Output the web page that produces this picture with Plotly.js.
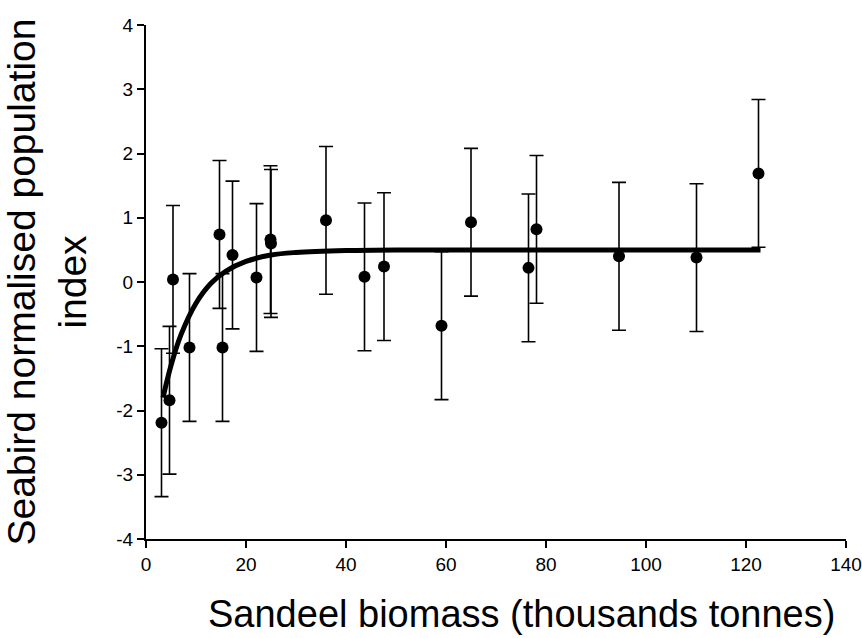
<!DOCTYPE html>
<html>
<head>
<meta charset="utf-8">
<script src="https://cdn.plot.ly/plotly-3.0.1.min.js"></script>
<style>html,body{margin:0;padding:0;background:#fff;}#chart{width:862px;height:638px;}</style>
</head>
<body>
<div id="chart"></div>
<script>
// Observed points: sandeel biomass (thousand tonnes) vs seabird index
const biomass = [3.1, 4.7, 5.4, 8.7, 14.7, 15.3, 17.3, 22.1, 24.9, 25.0, 36.0, 43.7, 47.6, 59.1, 65.0, 76.5, 78.1, 94.6, 110.1, 122.5];
const seabirdIndex = [-2.19, -1.84, 0.04, -1.02, 0.74, -1.02, 0.42, 0.07, 0.66, 0.60, 0.96, 0.08, 0.24, -0.68, 0.93, 0.22, 0.82, 0.40, 0.38, 1.69];
const errorSize = [1.15, 1.15, 1.15, 1.15, 1.15, 1.15, 1.15, 1.15, 1.15, 1.15, 1.15, 1.15, 1.15, 1.15, 1.15, 1.15, 1.15, 1.15, 1.15, 1.15];
// Fitted curve
const fitX = [3.4, 5, 7, 10, 13, 16, 20, 25, 30, 40, 50, 70, 100, 122.9];
const fitY = [-1.80, -1.30, -0.82, -0.33, -0.02, 0.17, 0.32, 0.42, 0.46, 0.49, 0.50, 0.50, 0.50, 0.50];
const xTicks = [0, 20, 40, 60, 80, 100, 120, 140];
const yTicks = [-4, -3, -2, -1, 0, 1, 2, 3, 4];
const xTitle = 'Sandeel biomass (thousands tonnes)';
const yTitle = 'Seabird normalised population<br>index';

const font = "Arial, 'Liberation Sans', sans-serif";

const traces = [
  {
    x: biomass, y: seabirdIndex, type: 'scatter', mode: 'markers',
    marker: {color: '#000', size: 12},
    error_y: {type: 'data', array: errorSize, visible: true, color: '#000', thickness: 1.6, width: 7},
    showlegend: false, hoverinfo: 'skip'
  },
  {
    x: fitX, y: fitY, type: 'scatter', mode: 'lines',
    line: {color: '#000', width: 5, shape: 'spline', smoothing: 1},
    showlegend: false, hoverinfo: 'skip'
  }
];

const layout = {
  width: 862, height: 638,
  paper_bgcolor: '#fff', plot_bgcolor: '#fff',
  margin: {l: 146, r: 16, t: 25, b: 99},
  font: {family: font, color: '#000'},
  xaxis: {
    range: [0, 140], tickvals: xTicks, ticktext: xTicks.map(String),
    showgrid: false, zeroline: false, showline: true, linecolor: '#000', linewidth: 2,
    ticks: 'outside', ticklen: 7, tickwidth: 2, tickcolor: '#000',
    tickfont: {family: font, size: 19, color: '#000'},
    automargin: false
  },
  yaxis: {
    range: [-4, 4], tickvals: yTicks, ticktext: yTicks.map(String),
    showgrid: false, zeroline: false, showline: true, linecolor: '#000', linewidth: 2,
    ticks: 'outside', ticklen: 7, tickwidth: 2, tickcolor: '#000',
    tickfont: {family: font, size: 19, color: '#000'},
    title: {text: yTitle, font: {family: font, size: 39, color: '#000'}, standoff: 20},
    automargin: false
  },
  annotations: [{
    text: xTitle, xref: 'paper', yref: 'paper', x: 0.537, y: -0.145,
    xanchor: 'center', yanchor: 'middle', showarrow: false,
    font: {family: font, size: 38, color: '#000'}
  }]
};

Plotly.newPlot('chart', traces, layout, {displayModeBar: false, staticPlot: true});
</script>
</body>
</html>
